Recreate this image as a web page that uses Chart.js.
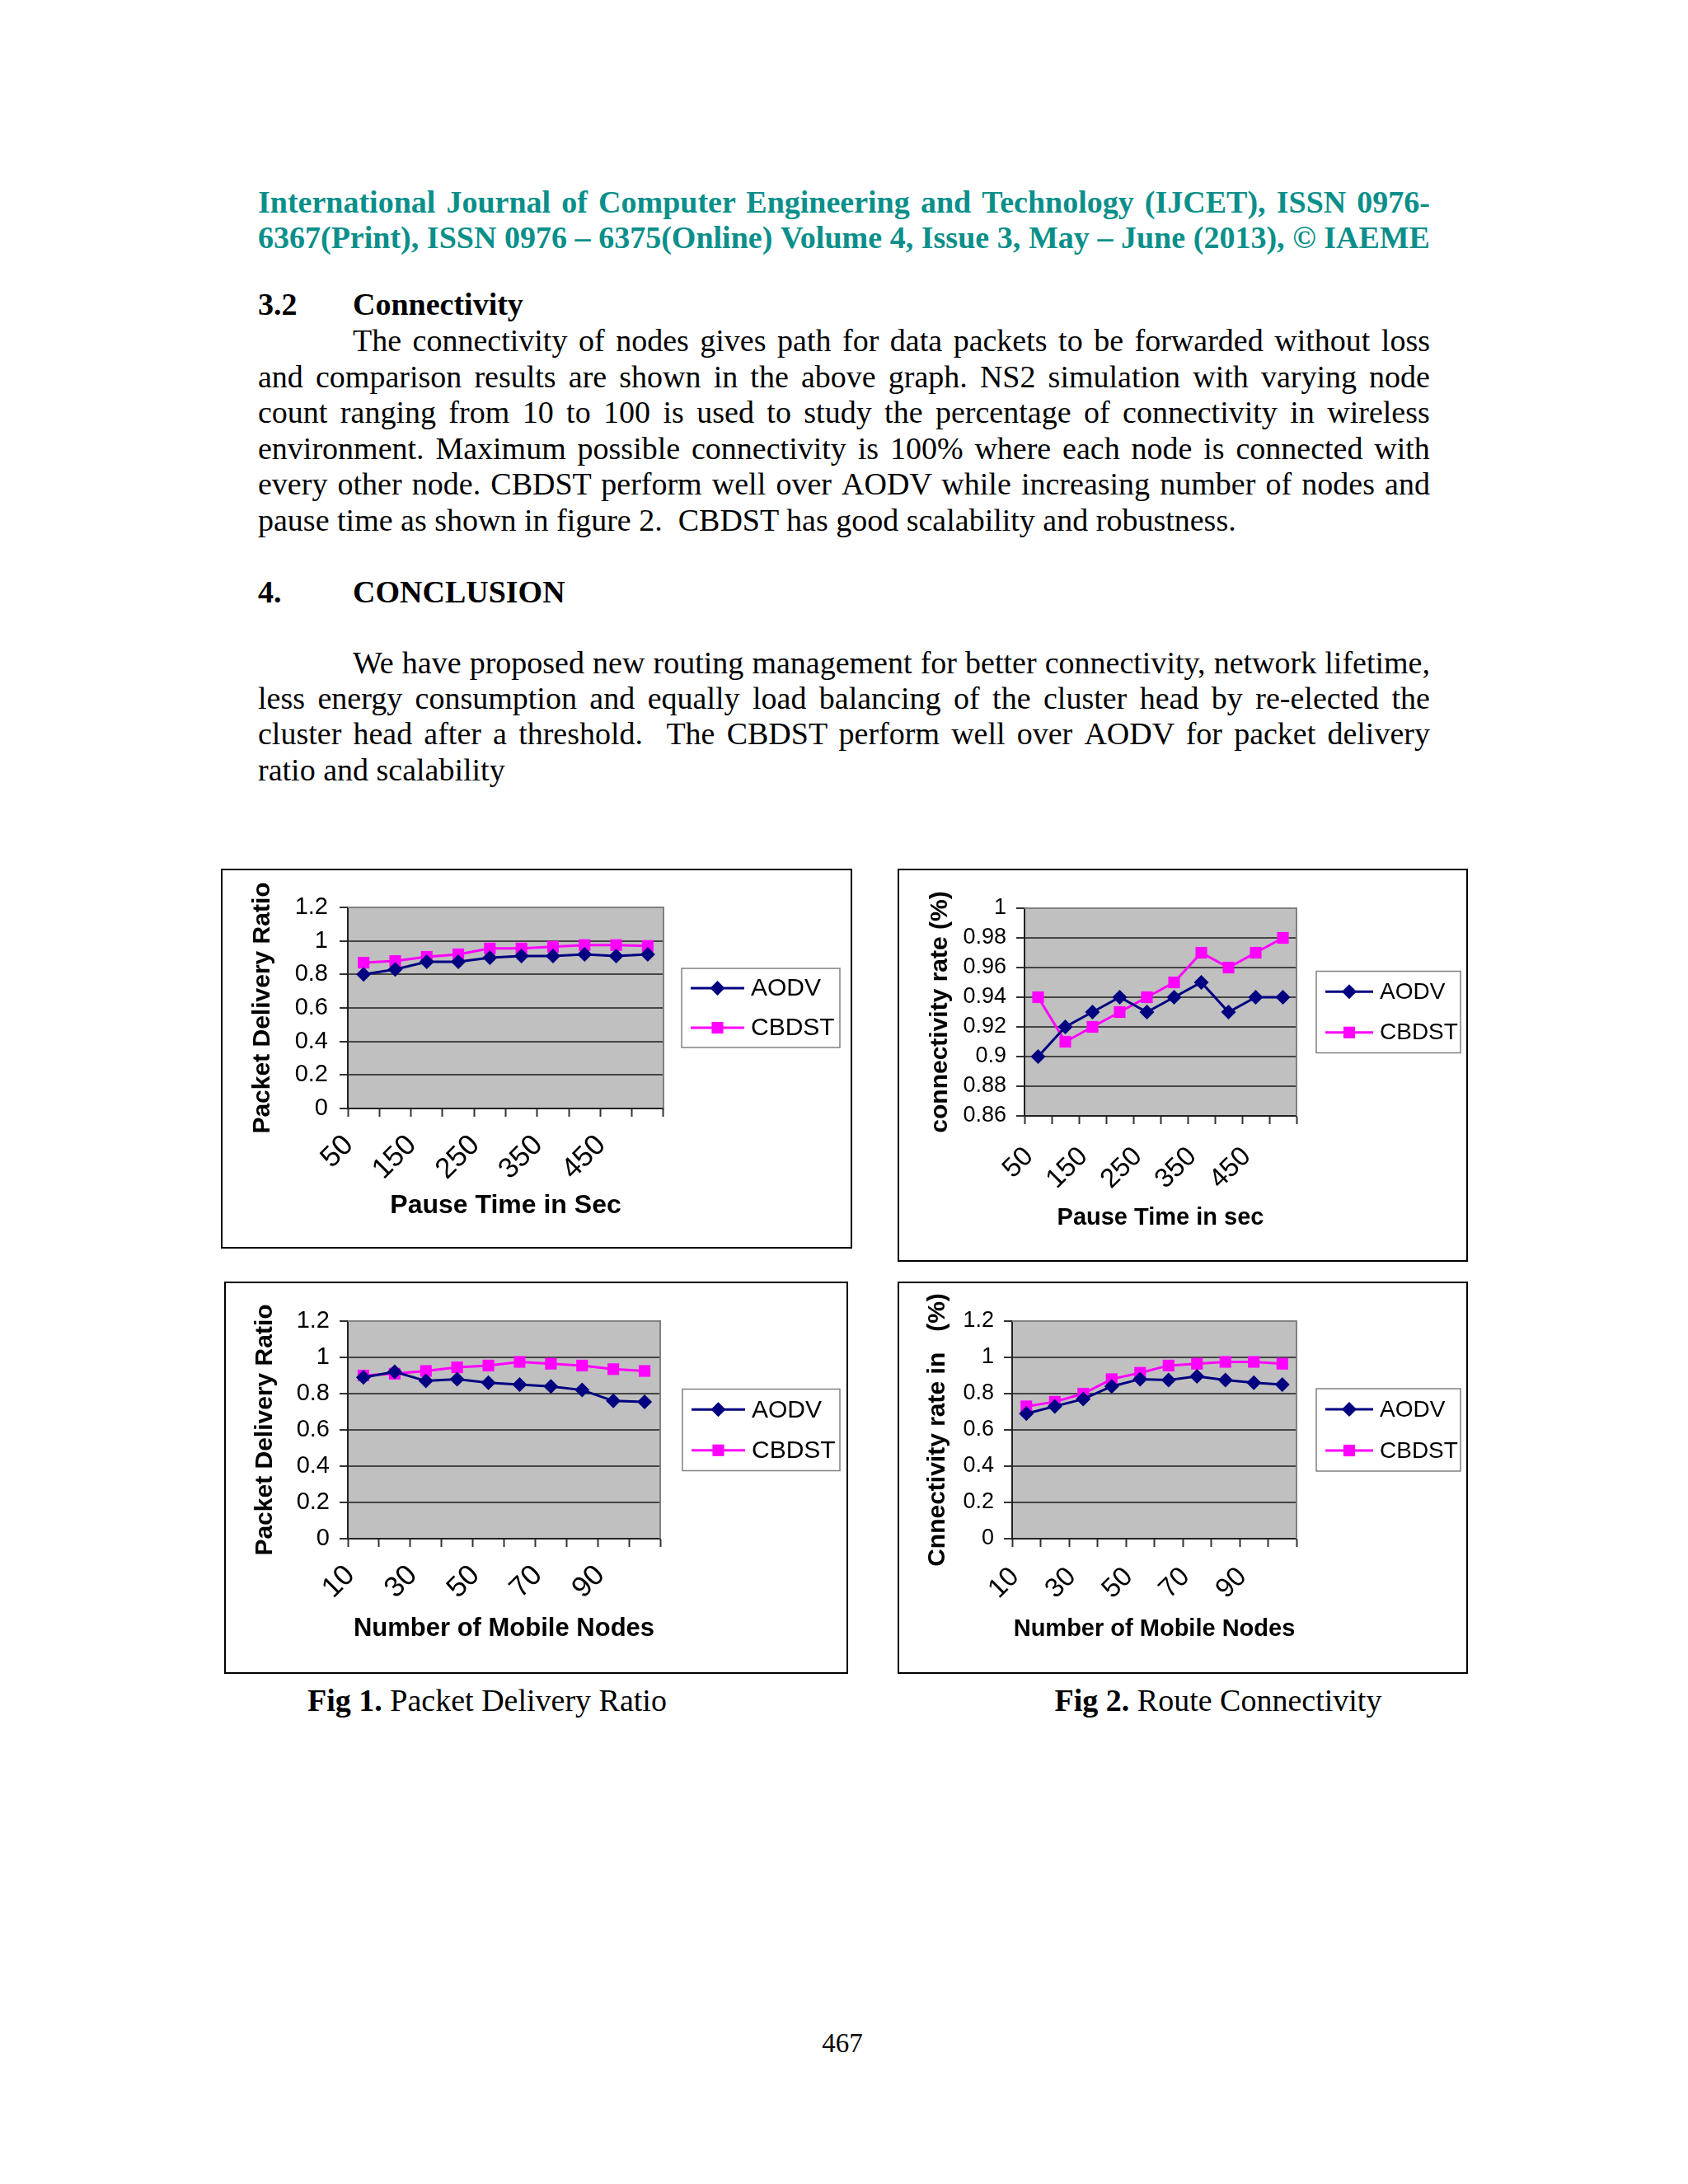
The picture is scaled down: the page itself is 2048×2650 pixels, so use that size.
<!DOCTYPE html>
<html><head><meta charset="utf-8">
<script src="https://cdn.jsdelivr.net/npm/chart.js@4.4.1/dist/chart.umd.min.js"></script>
<style>
html,body{margin:0;padding:0;background:#fff;}
body{width:2048px;height:2650px;position:relative;overflow:hidden;font-family:'Liberation Serif','Times New Roman',serif;color:#000;}
.ln{position:absolute;height:44px;line-height:44px;font-size:38px;white-space:pre;}
.j{display:flex;justify-content:space-between;}
.b{font-weight:bold;}
.hdr{color:#0a8f8a;font-weight:bold;}
.frame{position:absolute;border:2.5px solid #000;box-sizing:border-box;pointer-events:none;}
canvas{position:absolute;}
</style></head><body>
<script>
// ---------- DATA ----------
const pauseTimes = ['50','100','150','200','250','300','350','400','450','500'];
const nodeCounts = ['10','20','30','40','50','60','70','80','90','100'];
const seriesNames = ['AODV','CBDST'];

const pdrPauseAODV  = [0.80, 0.83, 0.875, 0.875, 0.90, 0.91, 0.91, 0.92, 0.91, 0.92];
const pdrPauseCBDST = [0.87, 0.88, 0.905, 0.92, 0.955, 0.955, 0.965, 0.975, 0.975, 0.97];

const connPauseAODV  = [0.90, 0.92, 0.93, 0.94, 0.93, 0.94, 0.95, 0.93, 0.94, 0.94];
const connPauseCBDST = [0.94, 0.91, 0.92, 0.93, 0.94, 0.95, 0.97, 0.96, 0.97, 0.98];

const pdrNodesAODV  = [0.89, 0.92, 0.87, 0.88, 0.86, 0.85, 0.84, 0.82, 0.76, 0.755];
const pdrNodesCBDST = [0.90, 0.91, 0.925, 0.945, 0.955, 0.975, 0.965, 0.955, 0.935, 0.925];

const connNodesAODV  = [0.69, 0.73, 0.77, 0.84, 0.88, 0.875, 0.895, 0.875, 0.86, 0.85];
const connNodesCBDST = [0.73, 0.755, 0.80, 0.88, 0.915, 0.955, 0.965, 0.975, 0.975, 0.965];

const yRangePDR  = [0, 1.2, 0.2];
const yRangeConnPause = [0.86, 1, 0.02];
const yRangeConnNodes = [0, 1.2, 0.2];

// ---------- PAGE TEXT ----------
function addLine(text, left, top, width, cls, justify) {
  const d = document.createElement('div');
  d.className = 'ln ' + (cls || '') + (justify ? ' j' : '');
  d.style.left = left + 'px'; d.style.top = top + 'px';
  if (width) d.style.width = width + 'px';
  if (justify) {
    const words = text.split(' ');
    words.forEach((w, i) => {
      const s = document.createElement('span');
      s.textContent = w + (i < words.length - 1 ? ' ' : '');
      d.appendChild(s);
    });
  } else {
    d.textContent = text;
  }
  document.body.appendChild(d);
  return d;
}
const L = 313, W = 1422, IND = 428;
addLine('International Journal of Computer Engineering and Technology (IJCET), ISSN 0976-', L, 223, W, 'hdr', true);
addLine('6367(Print), ISSN 0976 \u2013 6375(Online) Volume 4, Issue 3, May \u2013 June (2013), \u00A9 IAEME', L, 266, W, 'hdr', true);
addLine('3.2', L, 347, 0, 'b', false);
addLine('Connectivity', IND, 347, 0, 'b', false);
const p1 = [
 'The connectivity of nodes gives path for data packets to be forwarded without loss',
 'and comparison results are shown in the above graph. NS2 simulation with varying node',
 'count ranging from 10 to 100 is used to study the percentage of connectivity in wireless',
 'environment. Maximum possible connectivity is 100% where each node is connected with',
 'every other node. CBDST perform well over AODV while increasing number of nodes and',
 'pause time as shown in figure 2.  CBDST has good scalability and robustness.'
];
const p1c = [413, 456.6, 500.2, 543.8, 587.4, 631];
p1.forEach((t, i) => {
  const last = i === p1.length - 1;
  const x = i === 0 ? IND : L;
  addLine(t, x, p1c[i] - 22, last ? 0 : (L + W - x), '', !last);
});
addLine('4.', L, 696, 0, 'b', false);
addLine('CONCLUSION', IND, 696, 0, 'b', false);
const p2 = [
 'We have proposed new routing management for better connectivity, network lifetime,',
 'less energy consumption and equally load balancing of the cluster head by re-elected the',
 'cluster head after a threshold.  The CBDST perform well over AODV for packet delivery',
 'ratio and scalability'
];
const p2c = [804, 847, 890, 934];
p2.forEach((t, i) => {
  const last = i === p2.length - 1;
  const x = i === 0 ? IND : L;
  addLine(t, x, p2c[i] - 22, last ? 0 : (L + W - x), '', !last);
});
function caption(bold, rest, cx) {
  const d = document.createElement('div');
  d.className = 'ln';
  d.style.left = (cx - 400) + 'px'; d.style.width = '800px'; d.style.textAlign = 'center';
  d.style.top = (2063 - 22) + 'px';
  const b = document.createElement('b'); b.textContent = bold;
  d.appendChild(b); d.appendChild(document.createTextNode(rest));
  document.body.appendChild(d);
}
caption('Fig 1.', ' Packet Delivery Ratio', 591);
caption('Fig 2.', ' Route Connectivity', 1478);
const pn = addLine('467', 922, 2479 - 22, 200, '', false);
pn.style.textAlign = 'center'; pn.style.fontSize = '33px';

// ---------- CHARTS ----------
Chart.defaults.font.family = "'Liberation Sans', Arial, sans-serif";
Chart.defaults.color = '#000';

const plotFrame = {
  id: 'plotFrame',
  beforeDraw(chart) {
    const {ctx, chartArea: a} = chart;
    ctx.save(); ctx.fillStyle = '#c0c0c0';
    ctx.fillRect(a.left, a.top, a.width, a.height); ctx.restore();
  },
  beforeDatasetsDraw(chart) {
    const {ctx, chartArea: a} = chart;
    ctx.save(); ctx.strokeStyle = '#808080'; ctx.lineWidth = 2;
    ctx.beginPath(); ctx.moveTo(a.left, a.top); ctx.lineTo(a.right, a.top); ctx.lineTo(a.right, a.bottom); ctx.stroke();
    ctx.restore();
  }
};
function drawMarker(ctx, style, x, y, r, color) {
  ctx.fillStyle = color; ctx.beginPath();
  if (style === 'rectRot') {
    ctx.moveTo(x - r, y); ctx.lineTo(x, y - r); ctx.lineTo(x + r, y); ctx.lineTo(x, y + r); ctx.closePath();
  } else {
    const s = r * Math.SQRT1_2; ctx.rect(x - s, y - s, 2 * s, 2 * s);
  }
  ctx.fill();
}
const boxLegend = {
  id: 'boxLegend',
  afterDraw(chart, args, o) {
    const {ctx, chartArea: a} = chart;
    const x = a.right + o.gap, y = (a.top + a.bottom) / 2 - o.h / 2;
    ctx.save();
    ctx.fillStyle = '#fff'; ctx.fillRect(x, y, o.w, o.h);
    ctx.strokeStyle = '#808080'; ctx.lineWidth = 1.5; ctx.strokeRect(x, y, o.w, o.h);
    chart.data.datasets.forEach((ds, i) => {
      const cy = y + o.h * (2 * i + 1) / 4;
      ctx.strokeStyle = ds.borderColor; ctx.lineWidth = ds.borderWidth;
      ctx.beginPath(); ctx.moveTo(x + o.l0, cy); ctx.lineTo(x + o.l1, cy); ctx.stroke();
      drawMarker(ctx, ds.pointStyle, x + (o.l0 + o.l1) / 2, cy, ds.pointRadius, ds.borderColor);
      ctx.fillStyle = '#000'; ctx.font = o.font + "px 'Liberation Sans', Arial, sans-serif";
      ctx.textBaseline = 'middle'; ctx.textAlign = 'left';
      ctx.fillText(ds.label, x + o.tx, cy + 1);
    });
    ctx.restore();
  }
};

function makeChart(c, labels, aodv, cbdst, yr) {
  const cv = document.createElement('canvas');
  cv.width = c.w; cv.height = c.h;
  cv.style.left = c.left + 'px'; cv.style.top = c.top + 'px';
  cv.style.width = c.w + 'px'; cv.style.height = c.h + 'px';
  document.body.appendChild(cv);
  const fr = document.createElement('div');
  fr.className = 'frame';
  fr.style.left = c.left + 'px'; fr.style.top = c.top + 'px';
  fr.style.width = c.w + 'px'; fr.style.height = c.h + 'px';
  document.body.appendChild(fr);
  const [ymin, ymax, ystep] = yr;
  new Chart(cv, {
    type: 'line',
    data: {
      labels: labels,
      datasets: [
        {label: seriesNames[0], data: aodv, borderColor: '#000080', backgroundColor: '#000080',
         borderWidth: 3, pointStyle: 'rectRot', pointRadius: c.rd, pointBorderWidth: 0, tension: 0},
        {label: seriesNames[1], data: cbdst, borderColor: '#ff00ff', backgroundColor: '#ff00ff',
         borderWidth: 3, pointStyle: 'rect', pointRadius: c.rs, pointBorderWidth: 0, tension: 0}
      ]
    },
    options: {
      responsive: false, maintainAspectRatio: false, devicePixelRatio: 1, animation: false, events: [],
      layout: {padding: {left: 0, top: c.padTop, right: c.padRight, bottom: 0}},
      plugins: {legend: {display: false}, tooltip: {enabled: false}, boxLegend: c.legend},
      scales: {
        x: {
          type: 'category', offset: true,
          grid: {display: true, drawOnChartArea: false, drawTicks: true, tickLength: 10, tickColor: '#333', tickWidth: 2, offset: true},
          border: {display: true, color: '#222', width: 2},
          ticks: {autoSkip: false, maxRotation: 45, minRotation: 45, padding: c.xTickPad, labelOffset: c.xLabelOffset,
                  font: {size: c.xTickFont}, color: '#000',
                  callback: function (v, i) { return i % 2 === 0 ? this.getLabelForValue(v) : ''; }},
          title: {display: true, text: c.xTitle, font: {size: c.xTitleFont, weight: 'bold'}, color: '#000',
                  padding: {top: 0, bottom: c.xTitlePad}},
          afterFit(s) { s.height = c.xHeight; }
        },
        y: {
          min: ymin, max: ymax,
          grid: {drawTicks: true, tickLength: 10, tickColor: '#333', tickWidth: 2, lineWidth: 2,
                 color: (ctx) => (ctx.tick && Math.abs(ctx.tick.value - ymax) < 1e-9) ? 'rgba(0,0,0,0)' : '#454545'},
          border: {display: true, color: '#222', width: 2},
          ticks: {stepSize: ystep, padding: c.yTickPad, font: {size: c.tickFont}, color: '#000',
                  callback: (v) => String(+Number(v).toFixed(2))},
          title: {display: true, text: c.yTitle, font: {size: c.yTitleFont, weight: 'bold'}, color: '#000',
                  padding: {top: c.yTitlePad, bottom: 0}},
          afterFit(s) { s.width = c.yWidth; }
        }
      }
    },
    plugins: [plotFrame, boxLegend]
  });
}

const cfg1 = {left: 268, top: 1054, w: 766, h: 461, yWidth: 154, padTop: 47, padRight: 229, xHeight: 170,
  yTitle: 'Packet Delivery Ratio', xTitle: 'Pause Time in Sec', tickFont: 29, xTickFont: 35, xTitleFont: 32, yTitleFont: 30,
  yTitlePad: 33, xTitlePad: 33, xTickPad: 14, xLabelOffset: -18, yTickPad: 14, rd: 9, rs: 10,
  legend: {gap: 22, w: 192, h: 96, font: 30, l0: 11, l1: 76, tx: 84}};
const cfg2 = {left: 1089, top: 1054, w: 692, h: 477, yWidth: 154, padTop: 48, padRight: 208, xHeight: 177,
  yTitle: 'connectivity rate (%)', xTitle: 'Pause Time in sec', tickFont: 27, xTickFont: 33, xTitleFont: 29, yTitleFont: 30,
  yTitlePad: 34, xTitlePad: 36, xTickPad: 20, xLabelOffset: -11, yTickPad: 12, rd: 9, rs: 10,
  legend: {gap: 24, w: 175, h: 99, font: 28, l0: 11, l1: 69, tx: 77}};
const cfg3 = {left: 272, top: 1555, w: 757, h: 476, yWidth: 150, padTop: 48, padRight: 228, xHeight: 164,
  yTitle: 'Packet Delivery Ratio', xTitle: 'Number of Mobile Nodes', tickFont: 29, xTickFont: 35, xTitleFont: 31, yTitleFont: 30,
  yTitlePad: 32, xTitlePad: 36, xTickPad: 14, xLabelOffset: -16, yTickPad: 12, rd: 9, rs: 10,
  legend: {gap: 27, w: 191, h: 99, font: 30, l0: 11, l1: 76, tx: 84}};
const cfg4 = {left: 1089, top: 1555, w: 692, h: 476, yWidth: 139, padTop: 48, padRight: 208, xHeight: 164,
  yTitle: 'Cnnectivity rate in   (%)', xTitle: 'Number of Mobile Nodes', tickFont: 27, xTickFont: 33, xTitleFont: 29, yTitleFont: 30,
  yTitlePad: 31, xTitlePad: 37, xTickPad: 17, xLabelOffset: -14, yTickPad: 12, rd: 9, rs: 10,
  legend: {gap: 24, w: 175, h: 100, font: 28, l0: 11, l1: 69, tx: 77}};

makeChart(cfg1, pauseTimes, pdrPauseAODV, pdrPauseCBDST, yRangePDR);
makeChart(cfg2, pauseTimes, connPauseAODV, connPauseCBDST, yRangeConnPause);
makeChart(cfg3, nodeCounts, pdrNodesAODV, pdrNodesCBDST, yRangePDR);
makeChart(cfg4, nodeCounts, connNodesAODV, connNodesCBDST, yRangeConnNodes);
</script>
</body></html>
